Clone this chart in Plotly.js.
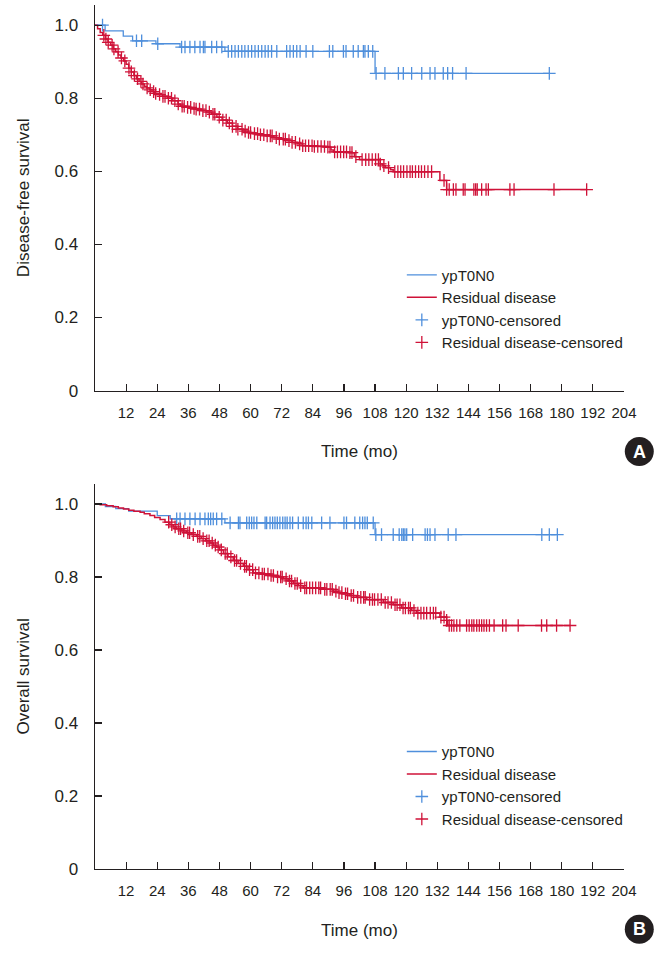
<!DOCTYPE html>
<html>
<head>
<meta charset="utf-8">
<script src="https://cdn.plot.ly/plotly-3.0.1.min.js"></script>
<style>html,body{margin:0;padding:0;background:#fff;}#chart{width:664px;height:955px;}</style>
</head>
<body>
<div id="chart"></div>
<script>
// ---------- Data ----------
var xTickVals = [12, 24, 36, 48, 60, 72, 84, 96, 108, 120, 132, 144, 156, 168, 180, 192, 204];
var yTickVals = [0, 0.2, 0.4, 0.6, 0.8, 1.0];
var yTickText = ["0", "0.2", "0.4", "0.6", "0.8", "1.0"];
var seriesNames = ["ypT0N0", "Residual disease", "ypT0N0-censored", "Residual disease-censored"];

// Panel A: disease-free survival
var dfsBlueT = [0, 3.9, 10.9, 14.5, 23.5, 32.8, 50.1, 108.0];
var dfsBlueS = [1.0, 0.984, 0.970, 0.957, 0.949, 0.940, 0.928, 0.868];
var dfsBlueEnd = 175.2;
var dfsBlueCens = [2.9, 16.0, 18.0, 24.2, 33.4, 34.7, 36.6, 38.5, 40.5, 41.8, 42.4, 45.0, 46.9, 48.9,
  51.4, 52.7, 54.0, 55.3, 56.6, 57.8, 59.1, 60.4, 61.7, 63.0, 64.3, 65.6, 66.8, 68.1, 70.1, 73.9,
  75.2, 76.5, 77.8, 79.1, 81.4, 84.0, 90.4, 91.7, 95.8, 96.8, 99.6, 101.5, 103.5, 104.1, 105.4, 107.1,
  108.4, 111.8, 117.0, 118.9, 122.1, 126.0, 129.2, 131.1, 134.3, 136.0, 137.9, 143.1, 175.2];

var dfsRedT = [0, 1, 2, 3, 4, 5, 6, 7, 8, 9, 10, 11, 12, 13, 14, 15, 16, 17, 18, 19, 20, 21, 22, 23, 24,
  26, 28, 30, 32, 33, 35, 37, 39, 41, 43, 45, 47, 49, 51, 53, 55, 57, 59, 61, 63, 66, 69, 71, 74, 76,
  78, 80, 84, 89, 91, 92, 98, 100, 102, 110, 111, 112, 114, 115, 133, 135.6];
var dfsRedS = [1.0, 0.99, 0.98, 0.972, 0.962, 0.953, 0.945, 0.935, 0.927, 0.918, 0.91, 0.902, 0.893,
  0.882, 0.872, 0.862, 0.853, 0.846, 0.839, 0.833, 0.828, 0.823, 0.818, 0.813, 0.81,
  0.805, 0.8, 0.793, 0.784, 0.778, 0.775, 0.772, 0.77, 0.766, 0.762, 0.756, 0.748, 0.74, 0.732, 0.723,
  0.715, 0.71, 0.706, 0.703, 0.7, 0.697, 0.692, 0.688, 0.684, 0.679, 0.675, 0.67, 0.668, 0.666, 0.658,
  0.653, 0.651, 0.64, 0.632, 0.62, 0.615, 0.61, 0.604, 0.599, 0.575, 0.55];
var dfsRedEnd = 189.6;
var dfsRedCens = [3.4, 4.2, 5.1, 6.6, 7.3, 8.9, 10.2, 11.5, 13.1, 14.0, 15.2, 16.4, 17.7, 18.5, 20.1,
  21.3, 22.6, 23.4, 24.9, 26.2, 27.0, 28.3, 29.5, 30.8, 32.1, 33.6, 34.4, 35.7, 36.9, 38.2, 39.0, 40.3,
  41.6, 42.8, 44.1, 45.5, 46.2, 47.9, 49.3, 50.6, 51.8, 53.0, 54.4, 55.1, 56.7, 57.9, 59.2, 60.0, 61.5,
  62.7, 63.8, 65.1, 66.4, 67.6, 68.3, 69.9, 71.1, 72.6, 73.4, 74.8, 76.0, 77.3, 78.9, 80.1, 81.2, 82.4,
  83.7, 84.6, 85.9, 87.2, 88.5, 89.8, 90.6, 92.4, 93.5, 94.7, 95.9, 97.0, 98.3, 99.1, 100.6, 103.0,
  104.4, 105.6, 106.9, 108.2, 109.3, 110.0, 111.4, 113.2, 115.6, 116.8, 117.9, 119.0, 120.3, 121.5,
  122.4, 123.6, 124.8, 125.9, 127.1, 128.4, 129.8, 134.6, 135.6, 136.6, 138.2, 139.2, 142.0, 142.7,
  146.1, 146.8, 147.4, 149.1, 150.8, 151.7, 160.0, 161.6, 177.0, 189.6];

// Panel B: overall survival
var osBlueT = [0, 4, 8, 13, 24, 29, 50.1, 108.0];
var osBlueS = [1.0, 0.993, 0.987, 0.980, 0.968, 0.959, 0.948, 0.916];
var osBlueEnd = 178.3;
var osBlueCens = [31.5, 32.8, 34.7, 36.6, 38.6, 40.5, 42.4, 43.7, 44.6, 45.6, 46.9, 48.9, 52.1, 55.3,
  55.9, 58.5, 59.5, 60.4, 61.3, 62.4, 65.6, 66.2, 67.5, 68.5, 69.4, 70.3, 71.3, 72.4, 73.3, 74.1, 75.2,
  76.2, 78.4, 80.3, 81.4, 82.3, 83.6, 87.4, 90.6, 96.0, 97.0, 100.2, 102.1, 103.2, 104.1, 105.0, 107.3,
  108.3, 110.5, 115.0, 117.3, 118.3, 118.9, 119.5, 120.2, 122.5, 127.3, 128.2, 129.2, 131.1, 136.2,
  139.2, 172.3, 175.2, 178.3];

var osRedT = [0, 2, 4.5, 7, 9, 11, 13, 15, 17.4, 19, 21.2, 23, 25.1, 27, 28.9, 30.2, 31.5, 33.5, 35.4,
  37.3, 39.2, 41, 42.7, 44.3, 45.6, 46.9, 48, 49.5, 51.3, 53.3, 55.2, 57.2, 59, 61, 64, 67.5, 70, 72.6,
  74.5, 76.5, 78.4, 80.3, 88, 91.9, 93.8, 95.7, 98.3, 100.9, 104.8, 111.2, 115, 118.3, 122.1, 124, 133,
  135.6, 136];
var osRedS = [1.0, 0.998, 0.995, 0.992, 0.989, 0.986, 0.983, 0.98, 0.977, 0.973, 0.968, 0.963, 0.957,
  0.95, 0.943, 0.937, 0.932, 0.926, 0.921, 0.916, 0.911, 0.905, 0.899, 0.893, 0.887, 0.882, 0.874,
  0.864, 0.855, 0.845, 0.837, 0.829, 0.82, 0.811, 0.808, 0.804, 0.8, 0.795, 0.789, 0.782, 0.776, 0.77,
  0.766, 0.761, 0.757, 0.754, 0.749, 0.744, 0.738, 0.730, 0.724, 0.715, 0.708, 0.701, 0.69, 0.681, 0.667];
var osRedEnd = 183.2;
var osRedCens = [28.4, 29.6, 30.9, 32.3, 33.0, 34.2, 35.8, 36.5, 37.9, 39.6, 40.4, 41.7, 43.1, 44.0,
  45.2, 46.4, 47.5, 48.7, 50.2, 51.0, 52.4, 53.8, 54.6, 56.1, 57.7, 58.4, 59.6, 60.8, 61.9, 63.2, 64.5,
  65.3, 66.7, 67.9, 68.8, 70.4, 71.6, 72.2, 73.7, 75.0, 75.8, 77.1, 78.0, 79.3, 80.9, 81.6, 82.8, 83.9,
  85.1, 86.3, 87.0, 88.6, 89.4, 90.7, 91.5, 92.9, 94.1, 95.2, 96.6, 97.4, 98.8, 99.7, 101.3, 102.5,
  103.6, 104.2, 105.9, 107.0, 107.8, 109.1, 110.4, 111.9, 113.0, 114.3, 115.7, 116.5, 117.6, 118.8,
  119.7, 120.9, 121.6, 123.0, 124.5, 125.7, 126.8, 127.9, 129.3, 130.5, 131.4, 133.4, 134.6, 135.6,
  136.6, 137.5, 138.4, 139.5, 140.7, 143.3, 144.3, 145.3, 146.1, 147.2, 148.2, 149.1, 150.0, 151.0,
  152.1, 153.9, 157.2, 158.5, 163.2, 172.2, 174.2, 178.0, 183.2];

// ---------- Helpers ----------
var BLUE = "#4f8fdc", RED = "#cf1238", INK = "#231f20";
var FONT = "Liberation Sans, Arial, Helvetica, sans-serif";

function survAt(T, S, t) {
  var v = S[0];
  for (var i = 0; i < T.length; i++) { if (T[i] <= t) v = S[i]; else break; }
  return v;
}
function stepTrace(T, S, end, name, color, width, xa, ya, leg) {
  return { type: "scatter", mode: "lines", x: T.concat([end]), y: S.concat([S[S.length - 1]]),
    line: { shape: "hv", color: color, width: width }, name: name, xaxis: xa, yaxis: ya,
    legend: leg, hoverinfo: "x+y" };
}
function censTrace(T, S, C, name, color, xa, ya, leg) {
  return { type: "scatter", mode: "markers", x: C, y: C.map(function (t) { return survAt(T, S, t); }),
    marker: { symbol: "cross-thin", size: 9, color: color, line: { color: color, width: 1.3 } },
    name: name, xaxis: xa, yaxis: ya, legend: leg };
}

var traces = [
  stepTrace(dfsBlueT, dfsBlueS, dfsBlueEnd, seriesNames[0], BLUE, 1.3, "x", "y", "legend"),
  stepTrace(dfsRedT, dfsRedS, dfsRedEnd, seriesNames[1], RED, 1.5, "x", "y", "legend"),
  censTrace(dfsBlueT, dfsBlueS, dfsBlueCens, seriesNames[2], BLUE, "x", "y", "legend"),
  censTrace(dfsRedT, dfsRedS, dfsRedCens, seriesNames[3], RED, "x", "y", "legend"),
  stepTrace(osBlueT, osBlueS, osBlueEnd, seriesNames[0], BLUE, 1.3, "x2", "y2", "legend2"),
  stepTrace(osRedT, osRedS, osRedEnd, seriesNames[1], RED, 1.5, "x2", "y2", "legend2"),
  censTrace(osBlueT, osBlueS, osBlueCens, seriesNames[2], BLUE, "x2", "y2", "legend2"),
  censTrace(osRedT, osRedS, osRedCens, seriesNames[3], RED, "x2", "y2", "legend2")
];

function xAxis(anchor) {
  return { anchor: anchor, domain: [0, 1], range: [0, 204], tickvals: xTickVals,
    ticks: "inside", ticklen: 7, tickwidth: 1.2, tickcolor: INK, showline: true, linecolor: INK,
    linewidth: 1.4, showgrid: false, zeroline: false, ticklabelstandoff: 8,
    tickfont: { family: FONT, size: 15, color: INK },
    title: { text: "Time (mo)", font: { family: FONT, size: 17, color: INK }, standoff: 25 } };
}
function yAxis(anchor, domain, title) {
  return { anchor: anchor, domain: domain, range: [0, 1.055], tickvals: yTickVals, ticktext: yTickText,
    ticks: "inside", ticklen: 7, tickwidth: 1.2, tickcolor: INK, showline: true, linecolor: INK,
    linewidth: 1.4, showgrid: false, zeroline: false, ticklabelstandoff: 12,
    tickfont: { family: FONT, size: 17, color: INK },
    title: { text: title, font: { family: FONT, size: 17, color: INK }, standoff: 20 } };
}
function legendBox(y) {
  return { x: 0.58, y: y, xanchor: "left", yanchor: "top", bgcolor: "rgba(0,0,0,0)",
    font: { family: FONT, size: 15, color: INK }, tracegroupgap: 0 };
}
function circleLabel(yc) {
  return { type: "circle", xref: "paper", yref: "paper", xsizemode: "pixel", ysizemode: "pixel",
    xanchor: 1.0289, yanchor: yc, x0: -14.5, x1: 14.5, y0: -14.5, y1: 14.5,
    fillcolor: INK, line: { width: 0 } };
}

var layout = {
  width: 664, height: 955,
  margin: { l: 95, r: 40, t: 5, b: 85.7 },
  paper_bgcolor: "#ffffff", plot_bgcolor: "#ffffff",
  font: { family: FONT, color: INK },
  xaxis: xAxis("y"),
  yaxis: yAxis("x", [0.55375, 1], "Disease-free survival"),
  xaxis2: xAxis("y2"),
  yaxis2: yAxis("x2", [0, 0.44579], "Overall survival"),
  legend: legendBox(0.7065),
  legend2: legendBox(0.1548),
  shapes: [circleLabel(0.48317), circleLabel(-0.06965)],
  annotations: [
    { text: "<b>A</b>", xref: "paper", yref: "paper", x: 1.0289, y: 0.48317, showarrow: false,
      xanchor: "center", yanchor: "middle", font: { family: FONT, size: 18, color: "#ffffff" } },
    { text: "<b>B</b>", xref: "paper", yref: "paper", x: 1.0289, y: -0.06965, showarrow: false,
      xanchor: "center", yanchor: "middle", font: { family: FONT, size: 18, color: "#ffffff" } }
  ],
  showlegend: true
};

Plotly.newPlot("chart", traces, layout, { staticPlot: true, displayModeBar: false });
</script>
</body>
</html>
